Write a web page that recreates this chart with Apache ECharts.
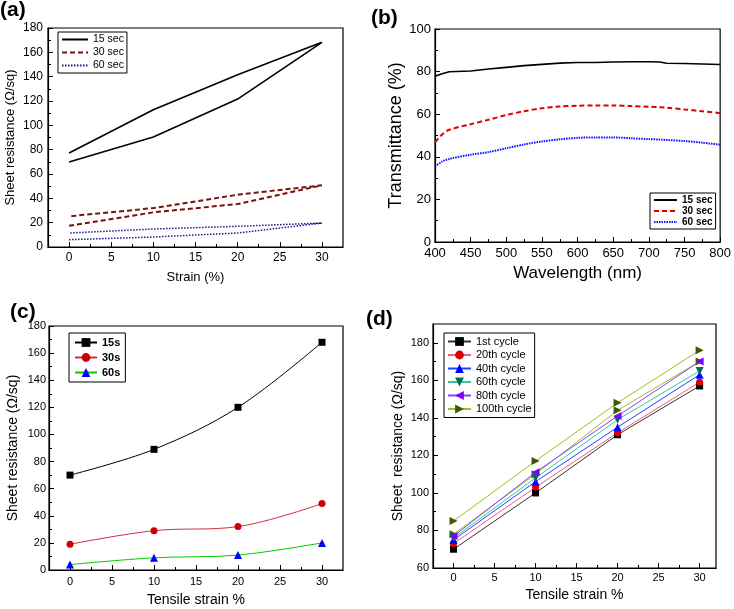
<!DOCTYPE html>
<html><head><meta charset="utf-8">
<script src="https://cdn.jsdelivr.net/npm/echarts@6/dist/echarts.min.js"></script>
<style>html,body{margin:0;padding:0;background:#fff}#c{width:734px;height:609px}</style>
</head><body><div id="c"></div>
<script>
// ---------- Panel (a) ----------
const aStrain = [0, 10, 20, 30];
const a15Lower = [69.8, 90.4, 121.6, 168.2];
const a15Upper = [77.2, 112.8, 141.6, 168.2];
const a30Lower = [17.5, 28.5, 35.3, 50.7];
const a30Upper = [25.2, 32.0, 43.0, 50.7];
const a60Lower = [6.0, 8.2, 11.5, 19.7];
const a60Upper = [11.5, 14.8, 17.0, 19.7];
const aXTicks = [0, 5, 10, 15, 20, 25, 30];
const aYTicks = [0, 20, 40, 60, 80, 100, 120, 140, 160, 180];

// ---------- Panel (b) ----------
const bWave = [400, 410, 420, 450, 475, 500, 525, 550, 575, 600, 625, 650, 675, 700, 715, 725, 750, 775, 800];
const b15 = [77.8, 79, 79.9, 80.3, 81.2, 82, 82.8, 83.4, 84, 84.3, 84.3, 84.5, 84.6, 84.6, 84.5, 83.9, 83.8, 83.6, 83.3];
const b30 = [46.8, 50.5, 52.7, 55.3, 57.4, 59.6, 61.4, 62.8, 63.6, 64, 64.1, 64.1, 63.8, 63.5, 63.3, 63.1, 62.2, 61.4, 60.5];
const b60 = [35.5, 37.8, 39, 41, 42.2, 44, 45.8, 47.2, 48.2, 48.9, 49.1, 49.1, 48.7, 48.3, 48.1, 47.9, 47.4, 46.6, 45.7];
const bXTicks = [400, 450, 500, 550, 600, 650, 700, 750, 800];
const bYTicks = [0, 20, 40, 60, 80, 100];

// ---------- Panel (c) ----------
const cStrain = [0, 10, 20, 30];
const c15 = [70, 89, 120, 168];
const c30 = [19, 29, 32, 49];
const c60 = [4, 9, 11, 20];
const cXTicks = [0, 5, 10, 15, 20, 25, 30];
const cYTicks = [0, 20, 40, 60, 80, 100, 120, 140, 160, 180];

// ---------- Panel (d) ----------
const dStrain = [0, 10, 20, 30];
const d1 = [70, 100, 131, 157];
const d20 = [73, 103, 132, 159];
const d40 = [75, 106, 135, 163];
const d60 = [76, 108, 139, 165];
const d80 = [77, 111, 141, 170];
const d100 = [85, 117, 148, 176];
const dExtra = [78, 110, 144, 170];
const dXTicks = [0, 5, 10, 15, 20, 25, 30];
const dYTicks = [60, 80, 100, 120, 140, 160, 180];

const FONT = 'Liberation Sans, Arial, sans-serif';

function mids(t) { const r = []; for (let i = 0; i < t.length - 1; i++) r.push((t[i] + t[i + 1]) / 2); return r; }
function pairs(xs, ys) { return xs.map((x, i) => [x, ys[i]]); }
function loop(xs, lower, upper) {
  const fwd = pairs(xs, lower);
  const back = pairs(xs, upper).slice(0, -1).reverse();
  return fwd.concat(back);
}

const xAxes = [], yAxes = [];
function axes(gi, dim, c) {
  const main = {
    type: 'value', gridIndex: gi, min: c.min, max: c.max,
    position: dim === 'x' ? 'bottom' : 'left',
    axisLine: { show: true, onZero: false, lineStyle: { color: '#000', width: 1.2 } },
    axisTick: { show: true, inside: true, length: 5, lineStyle: { color: '#000', width: 1 }, customValues: c.ticks },
    axisLabel: { show: true, customValues: c.ticks, color: '#000', fontSize: c.fs, margin: c.margin, fontFamily: FONT },
    splitLine: { show: false },
    name: c.name, nameLocation: 'middle', nameGap: c.nameGap,
    nameTextStyle: { color: '#000', fontSize: c.nameSize, fontFamily: FONT }
  };
  const minor = {
    type: 'value', gridIndex: gi, min: c.min, max: c.max,
    position: dim === 'x' ? 'bottom' : 'left',
    axisLine: { show: false, onZero: false },
    axisTick: { show: true, inside: true, length: 3, lineStyle: { color: '#000', width: 1 }, customValues: mids(c.ticks) },
    axisLabel: { show: false }, splitLine: { show: false }
  };
  const arr = dim === 'x' ? xAxes : yAxes;
  arr.push(main, minor);
}

// panel a
axes(0, 'x', { min: -2.5, max: 32.5, ticks: aXTicks, fs: 12, margin: 5, name: 'Strain (%)', nameGap: 24, nameSize: 13 });
axes(0, 'y', { min: 0, max: 180, ticks: aYTicks, fs: 12, margin: 5, name: 'Sheet resistance (\u03A9/sq)', nameGap: 31, nameSize: 13 });
// panel b
axes(1, 'x', { min: 400, max: 800, ticks: bXTicks, fs: 13, margin: 5, name: 'Wavelength (nm)', nameGap: 23, nameSize: 17 });
axes(1, 'y', { min: 0, max: 100, ticks: bYTicks, fs: 13, margin: 4, name: 'Transmittance (%)', nameGap: 29, nameSize: 18 });
// panel c
axes(2, 'x', { min: -2.5, max: 32.5, ticks: cXTicks, fs: 11, margin: 6, name: 'Tensile strain %', nameGap: 23, nameSize: 14 });
axes(2, 'y', { min: 0, max: 180, ticks: cYTicks, fs: 11, margin: 3, name: 'Sheet resistance (\u03A9/sq)', nameGap: 29, nameSize: 14 });
// panel d
axes(3, 'x', { min: -2.5, max: 32, ticks: dXTicks, fs: 11, margin: 4, name: 'Tensile strain %', nameGap: 20, nameSize: 14 });
axes(3, 'y', { min: 60, max: 190, ticks: dYTicks, fs: 11, margin: 4, name: 'Sheet  resistance (\u03A9/sq)', nameGap: 28, nameSize: 14 });

const gridBase = { show: true, borderColor: '#000', borderWidth: 1.2, backgroundColor: 'transparent', containLabel: false };
const grids = [
  Object.assign({ left: 48, top: 28, width: 295, height: 219 }, gridBase),
  Object.assign({ left: 435, top: 29, width: 287, height: 213 }, gridBase),
  Object.assign({ left: 49, top: 326, width: 294, height: 244 }, gridBase),
  Object.assign({ left: 433, top: 324, width: 283, height: 244 }, gridBase)
];

function line(p, name, data, o) {
  return Object.assign({
    type: 'line', name: p + ':' + name, xAxisIndex: 2 * 'abcd'.indexOf(p), yAxisIndex: 2 * 'abcd'.indexOf(p),
    data: data, animation: false, z: 3
  }, o);
}

const series = [
  line('a', '15 sec', loop(aStrain, a15Lower, a15Upper), { symbol: 'none', lineStyle: { color: '#000', width: 1.6 }, itemStyle: { color: '#000' } }),
  line('a', '30 sec', loop(aStrain, a30Lower, a30Upper), { symbol: 'none', lineStyle: { color: '#7a1010', width: 2, type: [5, 3] }, itemStyle: { color: '#7a1010' } }),
  line('a', '60 sec', loop(aStrain, a60Lower, a60Upper), { symbol: 'none', lineStyle: { color: '#1a1a8c', width: 1.5, type: [1.5, 1.5] }, itemStyle: { color: '#1a1a8c' } }),

  line('b', '15 sec', pairs(bWave, b15), { symbol: 'none', lineStyle: { color: '#000', width: 1.6 }, itemStyle: { color: '#000' } }),
  line('b', '30 sec', pairs(bWave, b30), { symbol: 'none', smooth: 0.3, lineStyle: { color: '#e00000', width: 2, type: [5, 3] }, itemStyle: { color: '#e00000' } }),
  line('b', '60 sec', pairs(bWave, b60), { symbol: 'none', smooth: 0.3, lineStyle: { color: '#1010ff', width: 2, type: [1.5, 1] }, itemStyle: { color: '#1010ff' } }),

  line('c', '15s', pairs(cStrain, c15), { smooth: 0.35, symbol: 'rect', symbolSize: 7, lineStyle: { color: '#000', width: 1 }, itemStyle: { color: '#000' } }),
  line('c', '30s', pairs(cStrain, c30), { smooth: 0.35, symbol: 'circle', symbolSize: 7, lineStyle: { color: '#cc3040', width: 1 }, itemStyle: { color: '#cc0000' } }),
  line('c', '60s', pairs(cStrain, c60), { smooth: 0.35, symbol: 'triangle', symbolSize: 8, lineStyle: { color: '#00cc00', width: 1 }, itemStyle: { color: '#0000ff' } }),

  line('d', 'extra', pairs(dStrain, dExtra), { z: 2, symbol: 'triangle', symbolRotate: -90, symbolSize: 8, lineStyle: { color: '#a0c020', width: 1 }, itemStyle: { color: '#3a5a00' } }),
  line('d', '1st cycle', pairs(dStrain, d1), { symbol: 'rect', symbolSize: 7, lineStyle: { color: '#333', width: 1 }, itemStyle: { color: '#000' } }),
  line('d', '20th cycle', pairs(dStrain, d20), { symbol: 'circle', symbolSize: 7, lineStyle: { color: '#f06070', width: 1 }, itemStyle: { color: '#dd0000' } }),
  line('d', '40th cycle', pairs(dStrain, d40), { symbol: 'triangle', symbolSize: 8, lineStyle: { color: '#2040ff', width: 1 }, itemStyle: { color: '#0000ff' } }),
  line('d', '60th cycle', pairs(dStrain, d60), { symbol: 'triangle', symbolRotate: 180, symbolSize: 8, lineStyle: { color: '#30c8a0', width: 1 }, itemStyle: { color: '#006e5a' } }),
  line('d', '80th cycle', pairs(dStrain, d80), { symbol: 'triangle', symbolRotate: 90, symbolSize: 8, lineStyle: { color: '#8a40ff', width: 1 }, itemStyle: { color: '#8000ff' } }),
  line('d', '100th cycle', pairs(dStrain, d100), { symbol: 'triangle', symbolRotate: -90, symbolSize: 8, lineStyle: { color: '#a0c020', width: 1 }, itemStyle: { color: '#3a5a00' } })
];

function legend(p, names, o) {
  return Object.assign({
    orient: 'vertical', selectedMode: false, data: names.map(n => p + ':' + n),
    formatter: n => n.slice(2),
    backgroundColor: '#fff', borderColor: '#000', borderWidth: 1,
    textStyle: { color: '#000', fontFamily: FONT }
  }, o);
}

const legends = [
  legend('a', ['15 sec', '30 sec', '60 sec'], { left: 58, top: 32, padding: [2, 3, 2, 3], itemGap: 2, itemWidth: 26, itemHeight: 11, itemStyle: { opacity: 0 }, textStyle: { color: '#000', fontFamily: FONT, fontSize: 10.5 } }),
  legend('b', ['15 sec', '30 sec', '60 sec'], { left: 650, top: 193, padding: [2, 3, 2, 3], itemGap: 1, itemWidth: 23, itemHeight: 11, itemStyle: { opacity: 0 }, textStyle: { color: '#000', fontFamily: FONT, fontSize: 10, fontWeight: 'bold' } }),
  legend('c', ['15s', '30s', '60s'], { left: 69, top: 333, padding: [4, 5, 4, 5], itemGap: 4, itemWidth: 22, itemHeight: 11, textStyle: { color: '#000', fontFamily: FONT, fontSize: 11, fontWeight: 'bold' } }),
  legend('d', ['1st cycle', '20th cycle', '40th cycle', '60th cycle', '80th cycle', '100th cycle'], { left: 444, top: 333, padding: [3, 3, 3, 3], itemGap: 2.5, itemWidth: 23, itemHeight: 11, textStyle: { color: '#000', fontFamily: FONT, fontSize: 11 } })
];

const labels = [['(a)', 0, 0], ['(b)', 371, 8], ['(c)', 10, 302], ['(d)', 366, 309]];

const chart = echarts.init(document.getElementById('c'), null, { renderer: 'canvas' });
chart.setOption({
  backgroundColor: '#fff',
  animation: false,
  textStyle: { fontFamily: FONT },
  grid: grids,
  xAxis: xAxes,
  yAxis: yAxes,
  legend: legends,
  series: series,
  graphic: labels.map(l => ({ type: 'text', left: l[1], top: l[2], style: { text: l[0], font: 'bold 21px ' + FONT, fill: '#000' } }))
});
</script></body></html>
